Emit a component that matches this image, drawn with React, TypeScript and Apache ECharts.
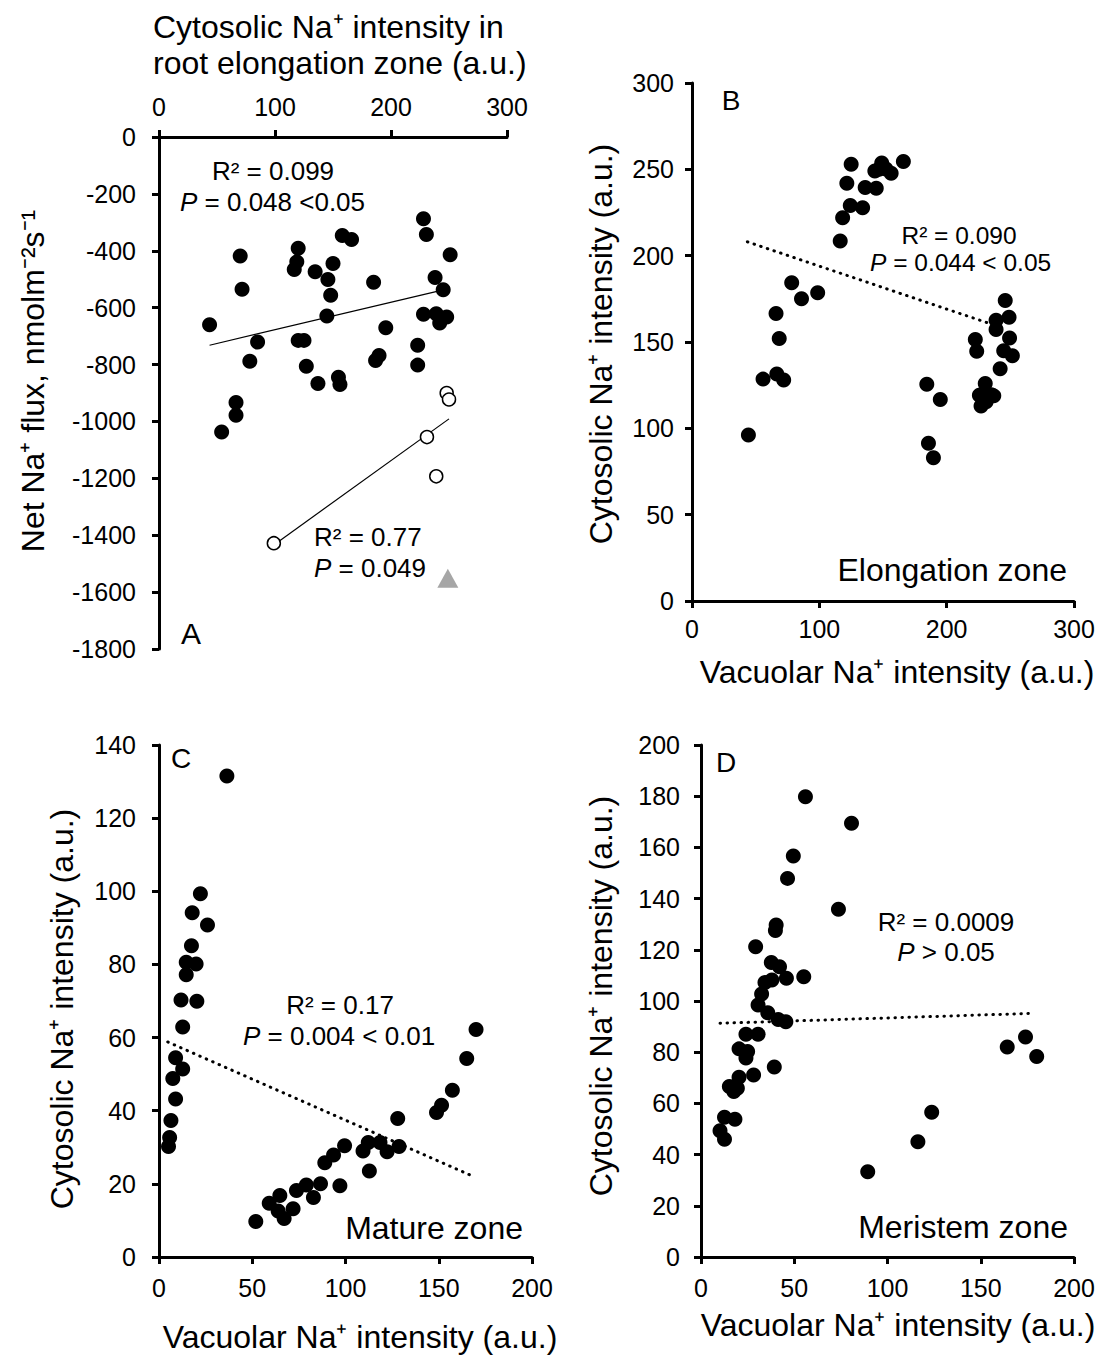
import React, { useEffect, useRef } from "react";
import * as echarts from "echarts";

// ---------- Panel A ----------
const aFilled: [number, number][] = [
  [43.6, -660], [54, -1037], [66.4, -933], [66.4, -978], [70, -418], [71.6, -535],
  [78.3, -788], [85, -721], [116.6, -466], [118.8, -439], [120, -391], [120, -715],
  [125, -715], [127, -806], [134.6, -474], [137, -867], [144.7, -629], [145.6, -501],
  [148, -556], [150, -445], [154.7, -845], [156, -870], [158, -346], [166, -360],
  [185, -511], [186.7, -786], [189.7, -768], [195.5, -671], [223, -732], [223, -802],
  [228, -287], [230.5, -343], [228, -623], [238, -494], [239, -621], [242, -654],
  [245, -537], [248, -633], [251, -414],
];
const aOpen: [number, number][] = [
  [99, -1428], [231, -1055], [239, -1193], [248, -900], [250, -923],
];
const aTriangle: [number, number][] = [[249, -1551]];
const aTrendFilled: [number, number][] = [[43.6, -732], [240.6, -542]];
const aTrendOpen: [number, number][] = [[99, -1434], [250, -991]];

// ---------- Panel B ----------
const bPoints: [number, number][] = [
  [125, 253], [121.6, 242], [124.3, 229], [134, 227.7], [118.3, 222], [116.4, 208.5],
  [136, 239.5], [144.7, 239], [143.6, 249], [149, 253.7], [152.3, 250.2], [156.4, 247.7],
  [166, 254.5], [146.9, 250], [78.3, 184.3], [86, 175], [98.7, 178.5], [66, 166.5],
  [68.5, 152], [55.8, 128.5], [66.6, 131.4], [72, 128], [246, 174], [249, 164.3],
  [238.8, 162.6], [238.8, 157.2], [222.5, 151.4], [223.6, 144.6], [249.4, 152.3],
  [244.8, 145], [251.6, 142], [242, 134.5], [184.4, 125.6], [230.3, 126], [44.3, 96.2],
  [185.7, 91.3], [189.6, 83], [195, 116.7], [227, 112.9], [225.7, 119.2], [237, 118.8],
  [231, 115.4], [235, 119.4], [227, 119.4],
];
const bTrend: [number, number][] = [[43.5, 208], [232.5, 161]];

// ---------- Panel C ----------
const cPoints: [number, number][] = [
  [36.4, 131.5], [22.2, 99.3], [17.8, 94.1], [26, 90.8], [17.4, 85.1], [14.6, 80.6],
  [19.9, 80.1], [14.6, 77.2], [11.8, 70.3], [20.3, 69.9], [12.7, 62.9], [170, 62.2],
  [8.9, 54.5], [12.7, 51.4], [7.4, 48.8], [8.9, 43.2], [6.4, 37.3], [5.7, 32.7],
  [5.1, 30.2], [165, 54.3], [157.3, 45.6], [151.5, 41.5], [148.8, 39.5], [128, 37.9],
  [128.7, 30.2], [122.3, 28.8], [118.5, 31.3], [112.2, 31.3], [109.4, 29], [112.8, 23.5],
  [99.5, 30.4], [93.6, 27.9], [88.9, 25.8], [97, 19.5], [86.6, 20], [79, 19.7],
  [73.7, 18.2], [82.8, 16.3], [71.9, 13.2], [64.8, 16.8], [59.1, 14.7], [63.9, 12.6],
  [67.1, 10.5], [51.9, 9.7],
];
const cTrend: [number, number][] = [[4.7, 58.8], [167.8, 22.2]];

// ---------- Panel D ----------
const dPoints: [number, number][] = [
  [56, 179.8], [80.7, 169.4], [49.5, 156.6], [46.4, 147.9], [73.7, 135.8], [40.3, 129.7],
  [39.9, 127.5], [29.3, 121.2], [37.7, 115], [42.1, 113.4], [45.8, 108.9], [55.1, 109.5],
  [34.3, 107.2], [38, 108.2], [32.5, 102.7], [30.6, 98.4], [35.8, 95.4], [41.4, 92.8],
  [45.5, 91.9], [24.1, 87], [30.6, 87], [20.4, 81.3], [25, 80.3], [24.1, 77.7],
  [39.3, 74.2], [28.2, 71.1], [20.4, 70.2], [15.2, 66.6], [19.5, 65.9], [17.6, 64.6],
  [12.6, 54.6], [18.2, 53.8], [10.2, 49.3], [12.6, 46], [164.2, 82], [174, 85.9],
  [180, 78.3], [123.7, 56.5], [116.3, 45], [89.4, 33.3],
];
const dTrend: [number, number][] = [[10.2, 91.3], [179, 95.2]];

const FONT = "Liberation Sans, Arial, Helvetica, sans-serif";
const TICK_FS = 25;
const NAME_FS = 32;

function axisCommon(margin: number) {
  return {
    axisLine: { show: true, onZero: false, lineStyle: { color: "#000", width: 3 } },
    axisTick: { show: true, inside: false, length: 7, lineStyle: { color: "#000", width: 3 } },
    axisLabel: {
      color: "#000",
      fontSize: TICK_FS,
      fontFamily: FONT,
      margin,
      formatter: (v: number) => String(v),
    },
    splitLine: { show: false },
  };
}

function txt(x: number, y: number, text: string, fontSize: number, align = "center", extra: any = {}) {
  return {
    type: "text",
    x,
    y,
    silent: true,
    ...extra,
    style: {
      text,
      fontSize,
      fontFamily: FONT,
      fill: "#000",
      align,
      verticalAlign: "middle",
      textAlign: align,
      textVerticalAlign: "middle",
      rich: {
        i: { fontStyle: "italic", fontSize, fontFamily: FONT, fill: "#000" },
      },
    },
  };
}

const filledSeries = (data: [number, number][], idx: number) => ({
  type: "scatter",
  xAxisIndex: idx,
  yAxisIndex: idx,
  data,
  symbol: "circle",
  symbolSize: 15,
  itemStyle: { color: "#000", opacity: 1 },
  z: 3,
});

const trendSeries = (data: [number, number][], idx: number, dotted: boolean) => ({
  type: "line",
  xAxisIndex: idx,
  yAxisIndex: idx,
  data,
  symbol: "none",
  lineStyle: dotted
    ? { color: "#000", width: 3, type: [0.5, 6.5], cap: "round", opacity: 1 }
    : { color: "#000", width: 1.2, opacity: 1 },
  z: 2,
});

export default function App() {
  const ref = useRef<HTMLDivElement>(null);
  useEffect(() => {
    if (!ref.current) return;
    const chart = echarts.init(ref.current, undefined, { renderer: "svg" });
    const option: any = {
      animation: false,
      backgroundColor: "#fff",
      grid: [
        { left: 159, top: 137, width: 348, height: 512, containLabel: false },
        { left: 692, top: 83, width: 382, height: 518, containLabel: false },
        { left: 159, top: 745, width: 373, height: 512, containLabel: false },
        { left: 701, top: 745, width: 373, height: 512, containLabel: false },
      ],
      xAxis: [
        { gridIndex: 0, type: "value", position: "top", min: 0, max: 300, interval: 100, ...axisCommon(18) },
        { gridIndex: 1, type: "value", min: 0, max: 300, interval: 100, ...axisCommon(15) },
        { gridIndex: 2, type: "value", min: 0, max: 200, interval: 50, ...axisCommon(18) },
        { gridIndex: 3, type: "value", min: 0, max: 200, interval: 50, ...axisCommon(18) },
      ],
      yAxis: [
        { gridIndex: 0, type: "value", min: -1800, max: 0, interval: 200, ...axisCommon(23) },
        { gridIndex: 1, type: "value", min: 0, max: 300, interval: 50, ...axisCommon(18) },
        { gridIndex: 2, type: "value", min: 0, max: 140, interval: 20, ...axisCommon(23) },
        { gridIndex: 3, type: "value", min: 0, max: 200, interval: 20, ...axisCommon(21) },
      ],
      series: [
        trendSeries(aTrendFilled, 0, false),
        trendSeries(aTrendOpen, 0, false),
        filledSeries(aFilled, 0),
        {
          type: "scatter",
          xAxisIndex: 0,
          yAxisIndex: 0,
          data: aOpen,
          symbol: "circle",
          symbolSize: 13,
          itemStyle: { color: "#fff", borderColor: "#000", borderWidth: 1.5, opacity: 1 },
          z: 3,
        },
        {
          type: "scatter",
          xAxisIndex: 0,
          yAxisIndex: 0,
          data: aTriangle,
          symbol: "triangle",
          symbolSize: [21, 19],
          itemStyle: { color: "#a6a6a6", opacity: 1 },
          z: 3,
        },
        trendSeries(bTrend, 1, true),
        filledSeries(bPoints, 1),
        trendSeries(cTrend, 2, true),
        filledSeries(cPoints, 2),
        trendSeries(dTrend, 3, true),
        filledSeries(dPoints, 3),
      ],
      graphic: [
        // Panel A
        txt(153, 27, "Cytosolic Na⁺ intensity in", NAME_FS, "left"),
        txt(153, 63, "root elongation zone (a.u.)", NAME_FS, "left"),
        txt(33, 381, "Net Na⁺ flux, nmolm⁻²s⁻¹", NAME_FS, "center", { rotation: Math.PI / 2 }),
        txt(273, 171, "R² = 0.099", 26, "center"),
        txt(180, 202, "{i|P} = 0.048 <0.05", 26, "left"),
        txt(314, 537, "R² = 0.77", 26, "left"),
        txt(314, 568, "{i|P} = 0.049", 26, "left"),
        txt(191, 633, "A", 30, "center"),
        // Panel B
        txt(731, 100, "B", 28, "center"),
        txt(959, 235, "R² = 0.090", 24.5, "center"),
        txt(870, 262, "{i|P} = 0.044 < 0.05", 24.5, "left"),
        txt(1067, 570, "Elongation zone", 32, "right"),
        txt(601, 344, "Cytosolic Na⁺ intensity (a.u.)", NAME_FS, "center", { rotation: Math.PI / 2 }),
        txt(897, 672, "Vacuolar Na⁺ intensity (a.u.)", NAME_FS, "center"),
        // Panel C
        txt(181, 758, "C", 28, "center"),
        txt(340, 1005, "R² = 0.17", 26, "center"),
        txt(243, 1036, "{i|P} = 0.004 < 0.01", 26, "left"),
        txt(523, 1228, "Mature zone", 32, "right"),
        txt(62, 1009, "Cytosolic Na⁺ intensity (a.u.)", NAME_FS, "center", { rotation: Math.PI / 2 }),
        txt(360, 1337, "Vacuolar Na⁺ intensity (a.u.)", NAME_FS, "center"),
        // Panel D
        txt(726, 762, "D", 28, "center"),
        txt(946, 922, "R² = 0.0009", 26, "center"),
        txt(946, 952, "{i|P} > 0.05", 26, "center"),
        txt(1068, 1227, "Meristem zone", 32, "right"),
        txt(601, 996, "Cytosolic Na⁺ intensity (a.u.)", NAME_FS, "center", { rotation: Math.PI / 2 }),
        txt(898, 1325, "Vacuolar Na⁺ intensity (a.u.)", NAME_FS, "center"),
      ],
    };
    chart.setOption(option);
    return () => chart.dispose();
  }, []);
  return (
    <div
      ref={ref}
      style={{ position: "absolute", left: 0, top: 0, width: 1099, height: 1356, background: "#fff" }}
    />
  );
}
